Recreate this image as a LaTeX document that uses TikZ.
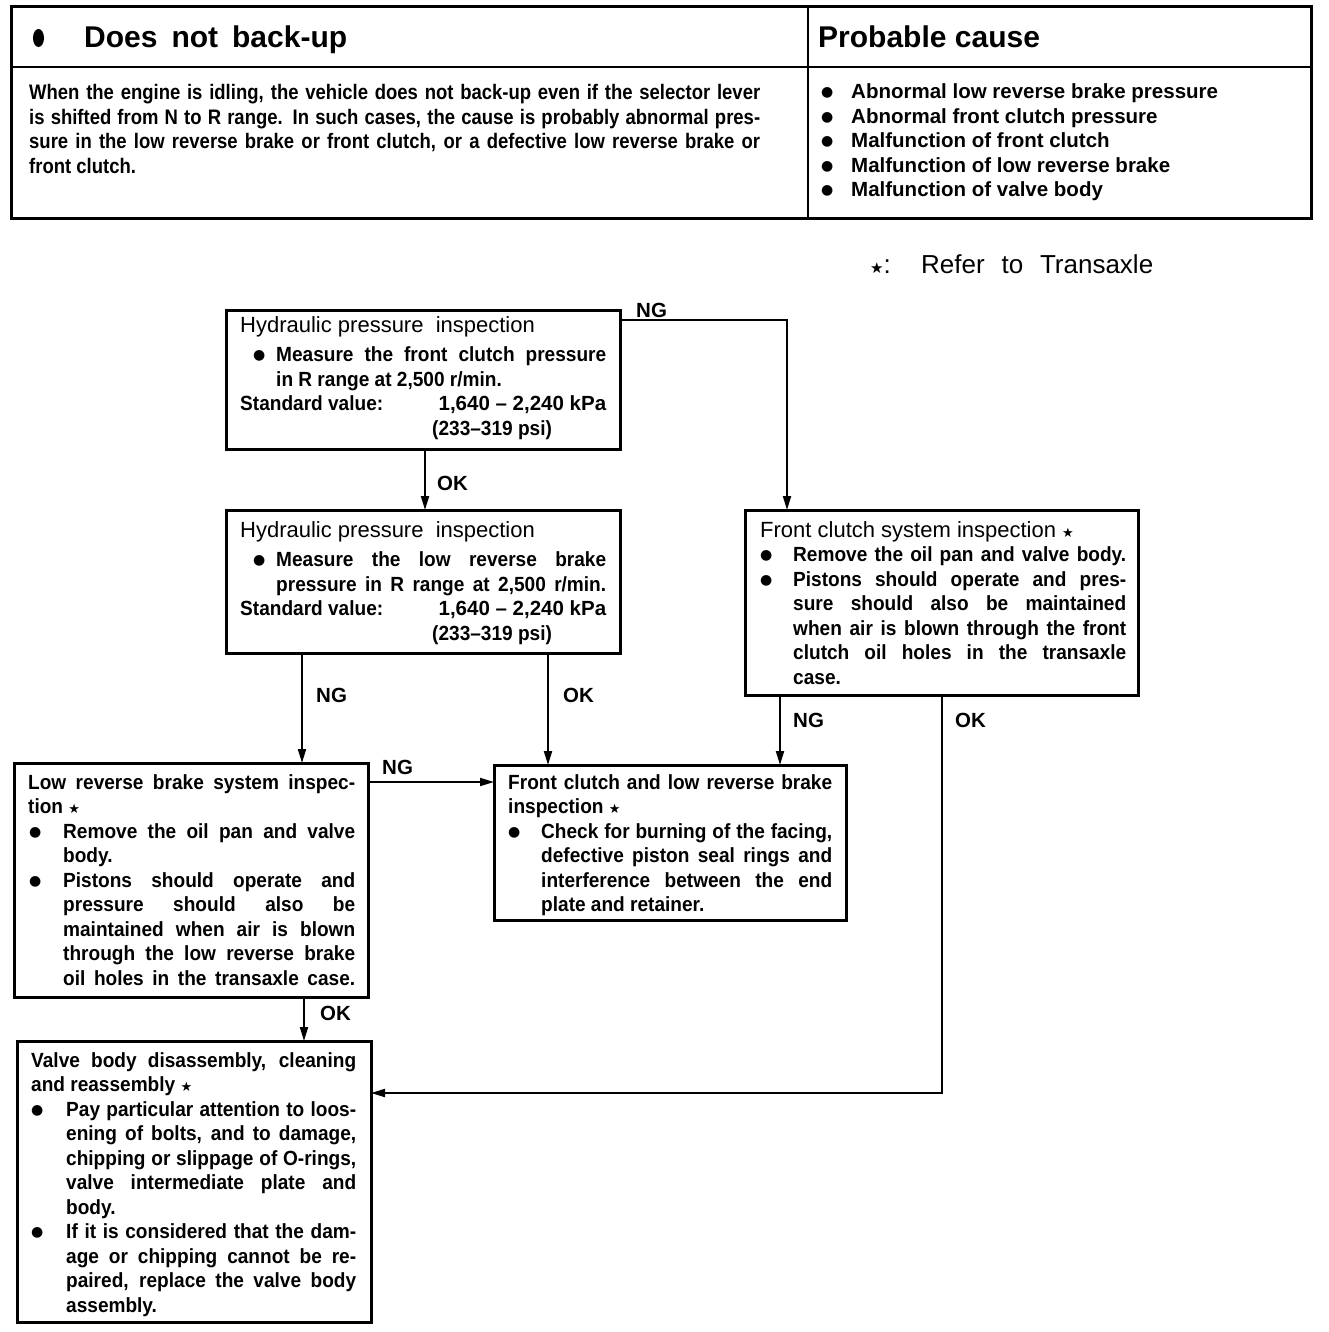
\documentclass[tikz,border=0pt]{standalone}
\usepackage{fontspec}
\setmainfont{Liberation Sans}
\newfontfamily\condfont[FakeStretch=0.93]{Liberation Sans}
\newfontfamily\topcond[FakeStretch=0.88]{Liberation Sans}
\newfontfamily\symfont{DejaVu Sans}
\usetikzlibrary{arrows.meta}

\newlength\bx \newlength\bi
\newcommand\bul{{\symfont\fontsize{14}{14}\selectfont\raisebox{2pt}{●}}}
\newcommand\st{{\symfont\mdseries\fontsize{13}{13}\selectfont ★}}
\newcommand\ttl{\rmfamily\mdseries\fontsize{22}{24.5}\selectfont}
\newcommand\Jl[1]{\hbox to \hsize{#1}}
\newcommand\Ll[1]{\hbox to \hsize{#1\hfil}}
\newcommand\Bj[1]{\hbox to \hsize{\rlap{\hskip\bx\bul}\hskip\bi\relax #1}}
\newcommand\Bl[1]{\hbox to \hsize{\rlap{\hskip\bx\bul}\hskip\bi\relax #1\hfil}}
\newcommand\Ij[1]{\hbox to \hsize{\hskip\bi\relax #1}}
\newcommand\Il[1]{\hbox to \hsize{\hskip\bi\relax #1\hfil}}
\newcommand\txt[4]{\vtop{\hsize=#1\bx=#2\bi=#3\baselineskip=24.5pt\lineskiplimit=-100pt\lineskip=0pt #4}}

\tikzset{
  box/.style={draw, line width=3pt, inner sep=0pt, outer sep=0pt, anchor=north west},
  btxt/.style={anchor=base west, inner sep=0pt, font=\condfont\bfseries\fontsize{20.5}{24.5}\selectfont},
  lbl/.style={anchor=west, inner sep=0pt, font=\bfseries\fontsize{20.5}{20.5}\selectfont},
  arr/.style={line width=2pt, -{Triangle[length=14pt,width=8pt]}},
}

\begin{document}
\begin{tikzpicture}[x=1pt,y=-1pt]
\useasboundingbox (0,0) rectangle (1328,1332);

% top table
\draw[line width=3pt] (11,7) rectangle (1311,219);
\draw[line width=2.5pt] (11,67) -- (1311,67);
\draw[line width=2.5pt] (808,7) -- (808,219);
\fill (38.5,38) ellipse [x radius=5.5, y radius=9];
\node[anchor=base west, inner sep=0pt, font=\bfseries\fontsize{30}{30}\selectfont] (hdr) at (84,48) {\hbox to 263pt{Does not back-up}};
\node[anchor=base west, inner sep=0pt, font=\bfseries\fontsize{30}{30}\selectfont] (cause) at (818,48) {Probable cause};
\node[anchor=base west, inner sep=0pt, font=\topcond\bfseries\fontsize{21}{24.5}\selectfont] (desc) at (29,100) {\txt{731pt}{0pt}{0pt}{%
\Jl{When the engine is idling, the vehicle does not back-up even if the selector lever}
\Jl{is shifted from N to R range. In such cases, the cause is probably abnormal pres-}
\Jl{sure in the low reverse brake or front clutch, or a defective low reverse brake or}
\Ll{front clutch.}}};
\node[anchor=base west, inner sep=0pt, font=\bfseries\fontsize{20.5}{24.8}\selectfont] (causes) at (821,99) {\txt{480pt}{0pt}{30pt}{%
\Bl{Abnormal low reverse brake pressure}
\Bl{Abnormal front clutch pressure}
\Bl{Malfunction of front clutch}
\Bl{Malfunction of low reverse brake}
\Bl{Malfunction of valve body}}};

% legend
\node[anchor=base west, inner sep=0pt, font=\fontsize{26}{26}\selectfont] (legs) at (870,273) {{\symfont\fontsize{15}{15}\selectfont ★}:};
\node[anchor=base west, inner sep=0pt, font=\fontsize{26}{26}\selectfont] (leg) at (921,273) {\hbox to 232pt{Refer to Transaxle}};

% boxes
\node[box, minimum width=394pt, minimum height=139pt] (b1) at (226,310) {};
\node[box, minimum width=394pt, minimum height=143pt] (b2) at (226,510) {};
\node[box, minimum width=393pt, minimum height=185pt] (b3) at (745,510) {};
\node[box, minimum width=354pt, minimum height=234pt] (b4) at (14,763) {};
\node[box, minimum width=352pt, minimum height=155pt] (b5) at (494,765) {};
\node[box, minimum width=354pt, minimum height=281pt] (b6) at (17,1041) {};

% box texts
\node[btxt] (t1) at (240,332) {\txt{366pt}{13pt}{36pt}{%
\Ll{\ttl Hydraulic pressure\ \ inspection}
\vskip5pt
\Bj{Measure the front clutch pressure}
\Il{in R range at 2,500 r/min.}
\Jl{Standard value:\hfil{\rmfamily 1,640 – 2,240 kPa}}
\Ll{\hskip192pt\relax (233–319 psi)}}};

\node[btxt] (t2) at (240,537) {\txt{366pt}{13pt}{36pt}{%
\Ll{\ttl Hydraulic pressure\ \ inspection}
\vskip5pt
\Bj{Measure the low reverse brake}
\Ij{pressure in R range at 2,500 r/min.}
\Jl{Standard value:\hfil{\rmfamily 1,640 – 2,240 kPa}}
\Ll{\hskip192pt\relax (233–319 psi)}}};

\node[btxt] (t3) at (760,537) {\txt{366pt}{0pt}{33pt}{%
\Ll{\ttl Front clutch system inspection \st}
\Bj{Remove the oil pan and valve body.}
\Bj{Pistons should operate and pres-}
\Ij{sure should also be maintained}
\Ij{when air is blown through the front}
\Ij{clutch oil holes in the transaxle}
\Il{case.}}};

\node[btxt] (t4) at (28,789) {\txt{327pt}{1pt}{35pt}{%
\Jl{Low reverse brake system inspec-}
\Ll{tion \st}
\Bj{Remove the oil pan and valve}
\Il{body.}
\Bj{Pistons should operate and}
\Ij{pressure should also be}
\Ij{maintained when air is blown}
\Ij{through the low reverse brake}
\Ij{oil holes in the transaxle case.}}};

\node[btxt] (t5) at (508,789) {\txt{324pt}{0pt}{33pt}{%
\Jl{Front clutch and low reverse brake}
\Ll{inspection \st}
\Bj{Check for burning of the facing,}
\Ij{defective piston seal rings and}
\Ij{interference between the end}
\Il{plate and retainer.}}};

\node[btxt] (t6) at (31,1067) {\txt{325pt}{0pt}{35pt}{%
\Jl{Valve body disassembly, cleaning}
\Ll{and reassembly \st}
\Bj{Pay particular attention to loos-}
\Ij{ening of bolts, and to damage,}
\Ij{chipping or slippage of O-rings,}
\Ij{valve intermediate plate and}
\Il{body.}
\Bj{If it is considered that the dam-}
\Ij{age or chipping cannot be re-}
\Ij{paired, replace the valve body}
\Il{assembly.}}};

% connectors
\draw[arr] ([xshift=199pt]b1.south west) -- ([xshift=199pt]b2.north west);
\draw[arr] ([yshift=-10pt]b1.north east) -| ([xshift=42pt]b3.north west);
\draw[arr] ([xshift=76pt]b2.south west) -- ([xshift=288pt]b4.north west);
\draw[arr] ([xshift=322pt]b2.south west) -- ([xshift=54pt]b5.north west);
\draw[arr] ([xshift=35pt]b3.south west) -- ([xshift=-66pt]b5.north east);
\draw[arr] ([xshift=197pt]b3.south west) |- ([yshift=-52pt]b6.north east);
\draw[arr] ([yshift=-19pt]b4.north east) -- ([yshift=-17pt]b5.north west);
\draw[arr] ([xshift=290pt]b4.south west) -- ([xshift=287pt]b6.north west);

% connector labels
\node[lbl] (l1) at (437,483) {OK};
\node[lbl] (l2) at (636,310) {NG};
\node[lbl] (l3) at (316,695) {NG};
\node[lbl] (l4) at (563,695) {OK};
\node[lbl] (l5) at (793,720) {NG};
\node[lbl] (l6) at (955,720) {OK};
\node[lbl] (l7) at (382,767) {NG};
\node[lbl] (l8) at (320,1013) {OK};
\end{tikzpicture}
\end{document}
